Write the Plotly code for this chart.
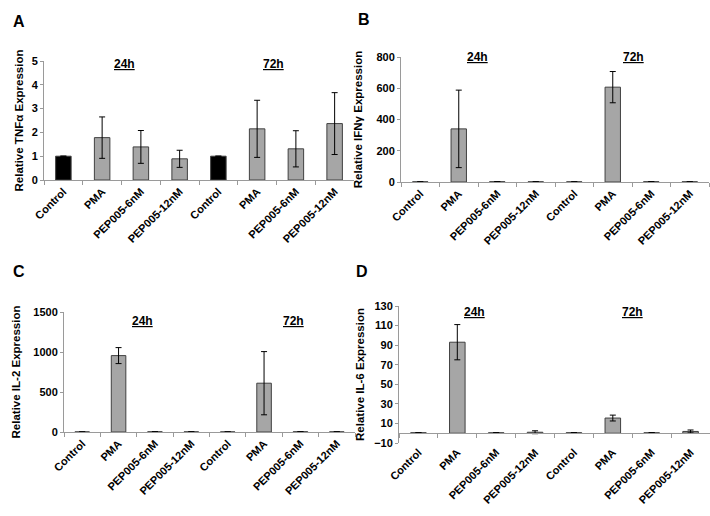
import plotly.graph_objects as go

categories = ["Control", "PMA", "PEP005-6nM", "PEP005-12nM",
              "Control", "PMA", "PEP005-6nM", "PEP005-12nM"]
time_labels = ["24h", "72h"]

tnf = [1.0, 1.78, 1.39, 0.89, 1.0, 2.15, 1.31, 2.37]
tnf_err = [0, 0.87, 0.69, 0.36, 0, 1.20, 0.76, 1.30]

ifn = [1, 340, 2, 1.5, 1, 607, 2, 1.5]
ifn_err = [0, 248, 0, 0, 0, 100, 0, 0]

il2 = [1, 955, 3, 2, 1, 610, 3, 2]
il2_err = [0, 100, 0, 0, 0, 395, 0, 0]

il6 = [0.5, 93, 0.5, 1.0, 0.5, 15.5, 0.5, 1.8]
il6_err = [0, 18, 0, 1.5, 0, 3, 0, 1.5]

W, H = 710, 516
FONT = "Liberation Sans, Arial, sans-serif"
GRAY = "#a6a6a6"
EDGE = "#404040"
AXC = "#9a9a9a"

xs = list(range(len(categories)))
colors = ["#000000" if c == "Control" else GRAY for c in categories]


def px_x(a, b):
    return [a / W, b / W]


def px_y(top, bottom):
    return [(H - bottom) / H, (H - top) / H]


panels = [
    # name, values, errors, ytitle, yrange, tick0, dtick, xdom, ydom, standoff
    ("A", tnf, tnf_err, "Relative TNFα Expression", [0, 5], 0, 1, px_x(44, 354), px_y(61, 180), 5),
    ("B", ifn, ifn_err, "Relative IFNγ Expression", [0, 800], 0, 200, px_x(401, 709), px_y(57, 182), 11),
    ("C", il2, il2_err, "Relative IL-2 Expression", [0, 1500], 0, 500, px_x(64, 355), px_y(312, 432), 10),
    ("D", il6, il6_err, "Relative IL-6 Expression", [-10, 130], -10, 20, px_x(399, 710), px_y(306, 443), 7),
]

fig = go.Figure()
layout = dict(
    width=W, height=H, margin=dict(l=0, r=0, t=0, b=0),
    paper_bgcolor="white", plot_bgcolor="white", showlegend=False,
    font=dict(family=FONT, size=11, color="black"),
    bargap=0.6,
)

tickfont = dict(family=FONT, size=11, color="black", weight="bold")
minor_vals = [i - 0.5 for i in range(len(categories) + 1)]

for i, (name, vals, errs, ytitle, yr, t0, dt, xd, yd, so) in enumerate(panels, start=1):
    xa = "x" if i == 1 else f"x{i}"
    ya = "y" if i == 1 else f"y{i}"
    fig.add_trace(go.Bar(
        x=xs, y=vals, xaxis=xa, yaxis=ya,
        marker=dict(color=colors, line=dict(color=EDGE, width=1)),
        error_y=dict(type="data", array=errs, visible=True, color="black",
                     thickness=1, width=3),
        hoverinfo="skip",
    ))
    is_d = name == "D"
    layout["xaxis" if i == 1 else f"xaxis{i}"] = dict(
        domain=xd, anchor=ya, range=[-0.5, len(categories) - 0.5],
        tickmode="array", tickvals=xs, ticktext=categories, tickangle=-45,
        tickfont=tickfont, ticks="", showline=not is_d, linecolor=AXC, linewidth=1,
        showgrid=False, zeroline=False, automargin=False,
        minor=dict(tickmode="array", tickvals=minor_vals, ticks="" if is_d else "outside",
                   ticklen=4, tickcolor=AXC),
    )
    layout["yaxis" if i == 1 else f"yaxis{i}"] = dict(
        domain=yd, anchor=xa, range=yr, tick0=t0, dtick=dt, tickmode="linear",
        tickfont=tickfont, ticks="outside", ticklen=3, tickcolor=AXC,
        showline=True, linecolor=AXC, linewidth=1, showgrid=False, zeroline=False,
        automargin=False,
        title=dict(text=ytitle, font=dict(family=FONT, size=11.5, color="black", weight="bold"),
                   standoff=so),
    )

# Panel D: x axis line drawn at y = 0
d_dom = panels[3][8]
d_rng = panels[3][4]
zero_pos = d_dom[0] + (0 - d_rng[0]) / (d_rng[1] - d_rng[0]) * (d_dom[1] - d_dom[0])
fig.add_trace(go.Scatter(x=xs, y=[None] * len(xs), xaxis="x5", yaxis="y4",
                         mode="markers", marker=dict(opacity=0), hoverinfo="skip"))
layout["xaxis5"] = dict(
    overlaying="x4", anchor="free", position=zero_pos, domain=panels[3][7],
    range=[-0.5, len(categories) - 0.5], showticklabels=False, ticks="",
    showline=True, linecolor=AXC, linewidth=1, showgrid=False, zeroline=False,
    tickmode="array", tickvals=xs,
    minor=dict(tickmode="array", tickvals=minor_vals, ticks="outside", ticklen=4, tickcolor=AXC),
)

annotations = []
time_pos = [
    ("x", 64, [1.59, 5.41]),
    ("x2", 57, [1.48, 5.53]),
    ("x3", 321, [1.65, 5.8]),
    ("x4", 312, [1.45, 5.5]),
]
for xref, ypx, xpos in time_pos:
    for lab, xv in zip(time_labels, xpos):
        annotations.append(dict(
            x=xv, y=(H - ypx) / H, xref=xref, yref="paper", text=lab, showarrow=False,
            font=dict(family=FONT, size=12, color="black", weight="bold", lineposition="under"),
            xanchor="center", yanchor="middle",
        ))

letters = [("A", 19, 22), ("B", 364, 20), ("C", 19, 271), ("D", 362, 271)]
for lab, lx, ly in letters:
    annotations.append(dict(
        x=lx / W, y=(H - ly) / H, xref="paper", yref="paper", text=lab, showarrow=False,
        font=dict(family=FONT, size=16, color="black", weight="bold"),
        xanchor="center", yanchor="middle",
    ))
layout["annotations"] = annotations

fig.update_layout(**layout)
fig.write_html("out.html", config={"displayModeBar": False},
               post_script="document.body.style.margin='0px';document.body.style.overflow='hidden';")
